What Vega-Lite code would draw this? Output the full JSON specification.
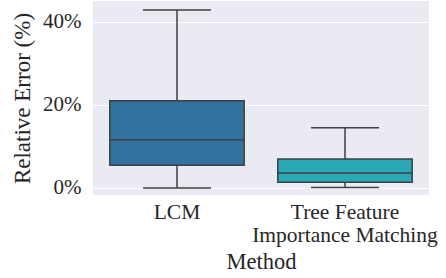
{
  "$schema": "https://vega.github.io/schema/vega-lite/v6.json",
  "width": 336,
  "height": 194,
  "autosize": "none",
  "padding": {"left": 93, "top": 1, "right": 17, "bottom": 83},
  "background": "white",
  "config": {"view": {"fill": "#eaeaf2", "stroke": null}, "font": "Liberation Serif",
    "axis": {"labelFont": "Liberation Serif", "titleFont": "Liberation Serif"}},
  "data": {"values": [
    {"Method": "LCM", "lo": 0, "q1": 5.5, "med": 11.6, "q3": 21, "hi": 42.9},
    {"Method": "Tree Feature Importance Matching", "lo": 0.1, "q1": 1.4, "med": 3.6, "q3": 7, "hi": 14.5}
  ]},
  "encoding": {
    "x": {
      "field": "Method", "type": "nominal",
      "scale": {"paddingInner": 0, "paddingOuter": 0},
      "axis": {
        "labelAngle": 0, "ticks": false, "domain": false, "grid": false,
        "labelPadding": 6, "labelFontSize": 21.5, "labelColor": "#262626",
        "labelLineHeight": 23, "labelLimit": 300,
        "labelExpr": "datum.value == 'Tree Feature Importance Matching' ? ['Tree Feature', 'Importance Matching'] : datum.value",
        "title": "Method", "titleFontSize": 22.5, "titleFontWeight": "normal", "titleColor": "#262626", "titlePadding": 5
      }
    }
  },
  "layer": [
    {
      "mark": {"type": "rule", "stroke": "#3f3f3f", "strokeWidth": 1.5},
      "encoding": {
        "y": {
          "field": "lo", "type": "quantitative",
          "scale": {"domain": [-1.69, 45.06], "nice": false, "zero": false},
          "axis": {
            "values": [0, 20, 40], "labelExpr": "datum.value + '%'",
            "grid": true, "gridColor": "white", "gridWidth": 1.2,
            "domain": false, "ticks": false, "labelPadding": 12,
            "labelFontSize": 21, "labelColor": "#262626",
            "title": "Relative Error (%)", "titleFontSize": 23, "titleFontWeight": "normal",
            "titleColor": "#262626", "titlePadding": 8
          }
        },
        "y2": {"field": "hi"}
      }
    },
    {
      "mark": {"type": "bar", "width": {"band": 0.8}, "stroke": "#3f3f3f", "strokeWidth": 1.5},
      "encoding": {
        "y": {"field": "q1", "type": "quantitative"},
        "y2": {"field": "q3"},
        "color": {"field": "Method", "type": "nominal", "scale": {"range": ["#31729f", "#2ba8b6"]}, "legend": null}
      }
    },
    {
      "mark": {"type": "tick", "size": 134, "thickness": 1.5, "color": "#3f3f3f", "opacity": 1},
      "encoding": {"y": {"field": "med", "type": "quantitative"}}
    },
    {
      "mark": {"type": "tick", "size": 68, "thickness": 1.5, "color": "#3f3f3f", "opacity": 1},
      "encoding": {"y": {"field": "lo", "type": "quantitative"}}
    },
    {
      "mark": {"type": "tick", "size": 68, "thickness": 1.5, "color": "#3f3f3f", "opacity": 1},
      "encoding": {"y": {"field": "hi", "type": "quantitative"}}
    }
  ]
}
